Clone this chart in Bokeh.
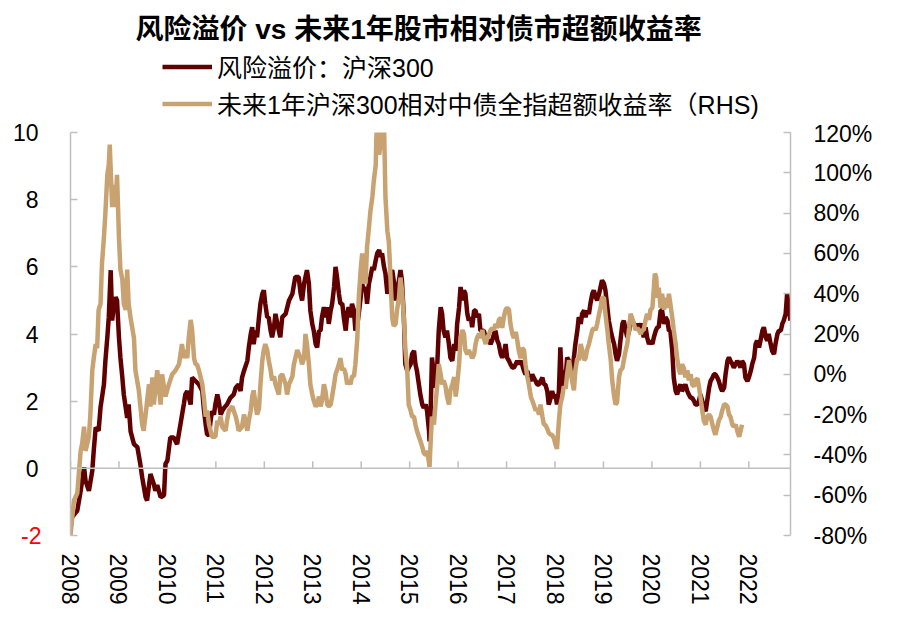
from bokeh.plotting import figure
from bokeh.layouts import column
from bokeh.models import Range1d, LinearAxis, FixedTicker, Span, Label, Legend, LegendItem
from bokeh.embed import file_html
from bokeh.resources import INLINE

title_text = "风险溢价 vs 未来1年股市相对债市超额收益率"
label_rp = "风险溢价：沪深300"
label_er = "未来1年沪深300相对中债全指超额收益率（RHS)"

year_ticks = list(range(2008, 2023))
left_ticks = [-2, 0, 2, 4, 6, 8, 10]
pct_ticks = [-80, -60, -40, -20, 0, 20, 40, 60, 80, 100, 120]

# 风险溢价：沪深300 (left axis)
risk_premium = [
    (2008.00, -1.8), (2008.03, -1.46), (2008.14, -1.26), (2008.21, -0.67), (2008.28, 0.03),
    (2008.31, -0.37), (2008.38, -0.67), (2008.45, -0.07), (2008.48, 0.53), (2008.52, 1.22),
    (2008.58, 1.12), (2008.62, 1.82), (2008.69, 2.5), (2008.72, 3.2), (2008.76, 3.9),
    (2008.79, 4.5), (2008.83, 5.9), (2008.86, 4.4), (2008.89, 4.8), (2008.93, 5.1),
    (2008.96, 5.0), (2009.00, 3.9), (2009.03, 3.3), (2009.07, 2.7), (2009.10, 2.2),
    (2009.14, 1.8), (2009.17, 1.5), (2009.20, 1.9), (2009.24, 1.1), (2009.31, 0.72),
    (2009.38, 0.63), (2009.44, 0.13), (2009.48, -0.27), (2009.55, -0.86), (2009.58, -0.96),
    (2009.65, -0.17), (2009.72, -0.47), (2009.75, -0.67), (2009.79, -0.5), (2009.86, -0.86),
    (2009.93, -0.8), (2009.96, 0.13), (2010.00, 0.23), (2010.06, 0.92), (2010.13, 0.92),
    (2010.20, 0.72), (2010.27, 1.32), (2010.34, 1.92), (2010.37, 2.2), (2010.41, 2.3),
    (2010.48, 1.9), (2010.51, 2.7), (2010.58, 2.6), (2010.65, 2.5), (2010.72, 2.3),
    (2010.75, 1.8), (2010.79, 1.3), (2010.82, 1.0), (2010.86, 1.0), (2010.89, 1.4),
    (2010.92, 1.7), (2010.96, 1.6), (2010.99, 1.9), (2011.03, 2.2), (2011.06, 2.0),
    (2011.10, 1.6), (2011.13, 1.7), (2011.17, 1.8), (2011.23, 1.9), (2011.30, 2.1),
    (2011.37, 2.2), (2011.41, 2.4), (2011.47, 2.5), (2011.51, 2.3), (2011.54, 2.7),
    (2011.58, 2.9), (2011.65, 3.2), (2011.68, 3.6), (2011.72, 4.0), (2011.75, 4.2),
    (2011.78, 3.7), (2011.82, 4.1), (2011.85, 3.9), (2011.89, 4.5), (2011.92, 4.9),
    (2011.96, 5.2), (2011.99, 5.3), (2012.02, 4.9), (2012.06, 4.5), (2012.09, 4.5),
    (2012.13, 4.1), (2012.16, 3.9), (2012.20, 4.2), (2012.23, 4.6), (2012.27, 4.3),
    (2012.33, 3.9), (2012.37, 4.5), (2012.44, 4.6), (2012.51, 5.0), (2012.58, 5.2),
    (2012.64, 5.7), (2012.71, 5.7), (2012.75, 5.2), (2012.78, 5.0), (2012.82, 5.5),
    (2012.85, 5.7), (2012.88, 5.9), (2012.92, 5.5), (2012.95, 4.7), (2012.99, 4.3),
    (2013.02, 4.1), (2013.06, 3.7), (2013.09, 3.6), (2013.13, 4.1), (2013.16, 4.1),
    (2013.19, 4.5), (2013.23, 4.8), (2013.26, 4.5), (2013.30, 4.8), (2013.33, 4.3),
    (2013.37, 4.7), (2013.40, 4.9), (2013.44, 5.4), (2013.47, 6.0), (2013.50, 5.7),
    (2013.54, 5.2), (2013.57, 4.9), (2013.61, 4.9), (2013.64, 4.5), (2013.68, 4.1),
    (2013.71, 4.6), (2013.74, 4.8), (2013.78, 4.5), (2013.81, 4.9), (2013.85, 4.7),
    (2013.88, 4.1), (2013.92, 4.3), (2013.95, 4.6), (2013.99, 5.1), (2014.02, 5.5),
    (2014.05, 5.3), (2014.09, 5.4), (2014.12, 4.9), (2014.16, 5.5), (2014.19, 5.7),
    (2014.23, 6.0), (2014.26, 5.9), (2014.30, 6.2), (2014.33, 6.4), (2014.37, 6.5),
    (2014.40, 6.3), (2014.43, 6.4), (2014.47, 6.0), (2014.50, 5.8), (2014.54, 5.2),
    (2014.57, 5.4), (2014.61, 5.8), (2014.64, 5.9), (2014.67, 5.6), (2014.71, 5.0),
    (2014.74, 5.3), (2014.78, 5.6), (2014.81, 5.9), (2014.84, 5.6), (2014.88, 4.5),
    (2014.91, 3.1), (2014.95, 2.9), (2014.98, 3.0), (2015.02, 3.1), (2015.05, 3.4),
    (2015.09, 3.5), (2015.12, 3.1), (2015.15, 2.9), (2015.19, 2.5), (2015.22, 2.2),
    (2015.26, 1.9), (2015.29, 1.8), (2015.33, 1.9), (2015.36, 1.7), (2015.40, 1.1),
    (2015.41, 0.8), (2015.43, 1.5), (2015.46, 3.3), (2015.50, 2.8), (2015.53, 2.4),
    (2015.57, 3.1), (2015.60, 4.1), (2015.64, 4.8), (2015.67, 4.6), (2015.70, 4.1),
    (2015.74, 3.9), (2015.77, 4.1), (2015.81, 3.7), (2015.84, 3.3), (2015.88, 3.2),
    (2015.92, 3.7), (2015.95, 3.5), (2015.98, 4.3), (2016.02, 4.8), (2016.05, 5.4),
    (2016.09, 5.0), (2016.12, 5.3), (2016.15, 5.2), (2016.19, 4.6), (2016.22, 4.4),
    (2016.26, 4.5), (2016.29, 4.2), (2016.33, 4.7), (2016.36, 4.7), (2016.39, 4.5),
    (2016.43, 4.6), (2016.46, 4.1), (2016.50, 4.1), (2016.53, 4.1), (2016.57, 3.9),
    (2016.60, 3.8), (2016.64, 3.8), (2016.67, 3.7), (2016.70, 3.8), (2016.74, 4.0),
    (2016.77, 4.1), (2016.81, 3.8), (2016.84, 3.7), (2016.88, 3.4), (2016.91, 3.3),
    (2016.94, 3.4), (2016.98, 3.7), (2017.01, 3.3), (2017.05, 3.2), (2017.08, 3.1),
    (2017.12, 3.0), (2017.15, 3.0), (2017.19, 3.1), (2017.22, 3.2), (2017.25, 3.1),
    (2017.29, 3.2), (2017.32, 3.1), (2017.36, 2.9), (2017.39, 2.8), (2017.43, 2.9),
    (2017.46, 2.7), (2017.50, 2.6), (2017.53, 2.8), (2017.56, 2.7), (2017.60, 2.6),
    (2017.63, 2.5), (2017.67, 2.5), (2017.70, 2.6), (2017.74, 2.7), (2017.77, 2.5),
    (2017.80, 2.5), (2017.84, 2.3), (2017.87, 1.9), (2017.91, 2.1), (2017.94, 2.3),
    (2017.98, 2.1), (2018.01, 2.2), (2018.04, 1.9), (2018.08, 2.3), (2018.11, 3.6),
    (2018.15, 2.3), (2018.18, 2.9), (2018.22, 2.7), (2018.25, 3.3), (2018.29, 3.2),
    (2018.32, 2.9), (2018.35, 2.8), (2018.39, 3.3), (2018.42, 3.7), (2018.46, 4.1),
    (2018.49, 4.5), (2018.53, 4.3), (2018.56, 4.6), (2018.60, 4.7), (2018.63, 4.5),
    (2018.66, 4.7), (2018.70, 4.6), (2018.73, 4.9), (2018.77, 5.2), (2018.80, 5.3),
    (2018.84, 5.1), (2018.87, 5.0), (2018.91, 5.2), (2018.94, 5.4), (2018.97, 5.6),
    (2019.01, 5.5), (2019.04, 5.3), (2019.08, 4.8), (2019.11, 4.4), (2019.15, 4.1),
    (2019.18, 3.9), (2019.22, 3.7), (2019.25, 3.4), (2019.28, 3.2), (2019.32, 3.4),
    (2019.35, 3.8), (2019.39, 4.3), (2019.42, 4.4), (2019.46, 4.1), (2019.49, 3.9),
    (2019.53, 4.1), (2019.56, 4.5), (2019.59, 4.4), (2019.63, 4.3), (2019.66, 4.2),
    (2019.70, 4.3), (2019.73, 4.2), (2019.77, 4.3), (2019.80, 4.2), (2019.83, 3.9),
    (2019.87, 4.2), (2019.90, 3.9), (2019.94, 3.7), (2019.97, 3.8), (2020.01, 3.7),
    (2020.04, 3.9), (2020.08, 4.1), (2020.11, 4.2), (2020.14, 4.2), (2020.18, 4.7),
    (2020.21, 4.7), (2020.25, 4.3), (2020.28, 4.5), (2020.32, 4.4), (2020.35, 4.1),
    (2020.38, 4.1), (2020.42, 3.5), (2020.45, 2.7), (2020.49, 2.3), (2020.52, 2.2),
    (2020.56, 2.4), (2020.59, 2.5), (2020.62, 2.3), (2020.66, 2.4), (2020.69, 2.5),
    (2020.73, 2.3), (2020.76, 2.2), (2020.80, 2.1), (2020.83, 2.1), (2020.87, 2.0),
    (2020.90, 1.9), (2020.94, 1.9), (2020.97, 2.0), (2021.00, 2.2), (2021.04, 2.0),
    (2021.07, 1.8), (2021.11, 1.7), (2021.14, 2.0), (2021.18, 2.4), (2021.21, 2.6),
    (2021.25, 2.7), (2021.28, 2.8), (2021.31, 2.8), (2021.35, 2.7), (2021.38, 2.6),
    (2021.42, 2.4), (2021.45, 2.3), (2021.49, 2.4), (2021.52, 2.8), (2021.56, 3.2),
    (2021.59, 3.3), (2021.62, 3.2), (2021.66, 3.1), (2021.69, 3.0), (2021.73, 3.1),
    (2021.76, 3.2), (2021.80, 3.1), (2021.83, 3.0), (2021.86, 3.2), (2021.90, 3.1),
    (2021.93, 2.7), (2021.97, 2.6), (2022.00, 2.7), (2022.04, 2.9), (2022.07, 3.1),
    (2022.11, 3.3), (2022.14, 3.7), (2022.17, 3.8), (2022.21, 3.6), (2022.24, 3.8),
    (2022.28, 4.1), (2022.31, 4.2), (2022.35, 3.9), (2022.38, 3.8), (2022.41, 4.0),
    (2022.45, 3.7), (2022.48, 3.5), (2022.52, 3.4), (2022.55, 3.7), (2022.59, 4.0),
    (2022.62, 4.1), (2022.66, 4.1), (2022.69, 4.3), (2022.72, 4.4), (2022.76, 4.6),
    (2022.79, 5.2), (2022.83, 4.7), (2022.86, 4.4),
]

# 未来1年沪深300相对中债全指超额收益率 (right axis, %)
excess_return = [
    (2008.00, -80), (2008.07, -62.6), (2008.14, -59), (2008.21, -38), (2008.24, -34.5),
    (2008.28, -26), (2008.31, -38), (2008.38, -31), (2008.41, -20), (2008.45, 2),
    (2008.48, 8), (2008.52, 15), (2008.55, 13), (2008.58, 32), (2008.62, 35),
    (2008.65, 55), (2008.69, 68), (2008.72, 80), (2008.76, 99), (2008.79, 104),
    (2008.81, 114), (2008.86, 83), (2008.89, 94), (2008.93, 83), (2008.96, 99),
    (2009.00, 68), (2009.03, 52), (2009.07, 47), (2009.10, 35), (2009.14, 32),
    (2009.17, 52), (2009.20, 35), (2009.24, 28), (2009.31, 18), (2009.34, 2),
    (2009.41, -8), (2009.48, -25), (2009.51, -28), (2009.55, -20), (2009.62, -5),
    (2009.65, -16), (2009.69, -1.5), (2009.72, -15), (2009.79, 2), (2009.86, -15),
    (2009.89, 0), (2009.96, -11), (2010.03, -5), (2010.10, 0), (2010.17, 2),
    (2010.24, 5), (2010.30, 15), (2010.34, 8), (2010.37, 12), (2010.41, 8),
    (2010.44, 18), (2010.48, 27), (2010.51, 22), (2010.55, 8), (2010.58, 5),
    (2010.61, 5), (2010.65, 2), (2010.68, -1), (2010.72, -5), (2010.75, -11),
    (2010.79, -21), (2010.82, -18), (2010.86, -25), (2010.89, -28), (2010.92, -31),
    (2010.99, -31), (2011.03, -23), (2011.06, -25), (2011.10, -21), (2011.13, -26),
    (2011.20, -28), (2011.23, -23), (2011.27, -18), (2011.34, -16), (2011.41, -21),
    (2011.44, -24), (2011.47, -28), (2011.54, -26), (2011.58, -20), (2011.61, -23),
    (2011.65, -28), (2011.68, -23), (2011.72, -18), (2011.75, -11), (2011.78, -8),
    (2011.82, -15), (2011.85, -20), (2011.89, -17), (2011.92, -5), (2011.96, 7),
    (2011.99, 12), (2012.02, 15), (2012.06, 12), (2012.09, 7), (2012.13, 2),
    (2012.16, -3), (2012.20, -1), (2012.23, -5), (2012.30, -10), (2012.33, -1),
    (2012.37, 0), (2012.44, -5), (2012.47, -10), (2012.51, -5), (2012.58, -1),
    (2012.61, 5), (2012.64, 8), (2012.68, 12), (2012.75, 8), (2012.78, 5),
    (2012.82, 8), (2012.85, 20), (2012.88, 15), (2012.92, 5), (2012.95, -5),
    (2012.99, -10), (2013.02, -13), (2013.06, -16), (2013.09, -15), (2013.13, -11),
    (2013.16, -16), (2013.19, -13), (2013.23, -5), (2013.26, -8), (2013.30, -15),
    (2013.33, -16), (2013.37, -15), (2013.40, -11), (2013.44, -5), (2013.47, 0),
    (2013.50, 2), (2013.54, 5), (2013.57, 8), (2013.61, 2), (2013.64, 3),
    (2013.68, 0), (2013.71, -5), (2013.74, -3), (2013.78, -5), (2013.81, -1),
    (2013.85, -1), (2013.88, 5), (2013.92, 18), (2013.95, 38), (2013.99, 52),
    (2014.02, 60), (2014.03, 45), (2014.05, 50), (2014.09, 45), (2014.12, 63),
    (2014.16, 73), (2014.19, 81), (2014.23, 88), (2014.26, 96), (2014.30, 104),
    (2014.31, 116), (2014.33, 125), (2014.37, 109), (2014.40, 114), (2014.43, 125),
    (2014.47, 125), (2014.50, 88), (2014.54, 71), (2014.57, 66), (2014.61, 45),
    (2014.64, 28), (2014.67, 24), (2014.71, 25), (2014.74, 32), (2014.78, 38),
    (2014.81, 48), (2014.84, 42), (2014.88, 28), (2014.91, 13), (2014.95, 2),
    (2014.98, -15), (2015.02, -18), (2015.05, -21), (2015.09, -21), (2015.12, -25),
    (2015.15, -28), (2015.19, -31), (2015.22, -33), (2015.26, -36), (2015.29, -39),
    (2015.33, -40), (2015.36, -38), (2015.40, -44), (2015.41, -46), (2015.43, -35),
    (2015.46, -21), (2015.50, -25), (2015.53, -16), (2015.57, -5), (2015.60, 5),
    (2015.64, 0), (2015.67, -5), (2015.70, -3), (2015.74, -6), (2015.77, -11),
    (2015.81, -15), (2015.84, -8), (2015.88, -5), (2015.92, -1.4), (2015.95, -11),
    (2015.98, -5), (2016.02, 5), (2016.05, 18), (2016.09, 22), (2016.12, 20),
    (2016.15, 12), (2016.19, 10), (2016.22, 12), (2016.26, 10), (2016.29, 8),
    (2016.33, 10), (2016.36, 15), (2016.39, 18), (2016.43, 20), (2016.46, 18),
    (2016.50, 22), (2016.53, 18), (2016.57, 15), (2016.60, 18), (2016.64, 20),
    (2016.67, 22), (2016.70, 23), (2016.74, 22), (2016.77, 25), (2016.81, 23),
    (2016.84, 27), (2016.88, 28), (2016.91, 23), (2016.94, 28), (2016.98, 32),
    (2017.01, 33), (2017.05, 32), (2017.08, 25), (2017.12, 20), (2017.15, 18),
    (2017.19, 21), (2017.22, 17), (2017.25, 12), (2017.29, 8), (2017.32, 13),
    (2017.36, 12), (2017.39, 5), (2017.43, -1.4), (2017.46, -5), (2017.50, -11),
    (2017.53, -13), (2017.56, -15), (2017.60, -18), (2017.63, -17), (2017.67, -20),
    (2017.70, -15), (2017.74, -21), (2017.77, -25), (2017.80, -25), (2017.84, -27),
    (2017.87, -29), (2017.91, -30), (2017.94, -30), (2017.98, -32), (2018.01, -35),
    (2018.04, -37), (2018.08, -23), (2018.11, -15), (2018.15, -11), (2018.18, -6),
    (2018.22, -7), (2018.25, 0), (2018.29, 7), (2018.32, 2), (2018.35, -3),
    (2018.39, -8), (2018.42, 2), (2018.46, 8), (2018.49, 7), (2018.53, 15),
    (2018.56, 12), (2018.60, 7), (2018.63, 8), (2018.66, 12), (2018.70, 15),
    (2018.73, 18), (2018.77, 22), (2018.80, 23), (2018.84, 22), (2018.87, 25),
    (2018.91, 30), (2018.94, 33), (2018.97, 38), (2019.01, 38), (2019.04, 30),
    (2019.08, 22), (2019.11, 15), (2019.15, 7), (2019.18, -3), (2019.22, -11),
    (2019.25, -15), (2019.28, -14), (2019.32, -1.5), (2019.35, 2), (2019.39, 3),
    (2019.42, 7), (2019.46, 12), (2019.49, 15), (2019.53, 23), (2019.56, 30),
    (2019.59, 28), (2019.63, 25), (2019.66, 22), (2019.70, 23), (2019.73, 22),
    (2019.77, 20), (2019.80, 22), (2019.83, 22), (2019.87, 27), (2019.90, 30),
    (2019.94, 27), (2019.97, 32), (2020.01, 33), (2020.04, 43), (2020.06, 50),
    (2020.09, 48), (2020.11, 38), (2020.14, 43), (2020.18, 33), (2020.21, 40),
    (2020.25, 32), (2020.28, 38), (2020.32, 33), (2020.35, 40), (2020.38, 35),
    (2020.42, 28), (2020.45, 22), (2020.49, 15), (2020.52, 8), (2020.56, 2),
    (2020.59, 0), (2020.62, 5), (2020.66, 3), (2020.69, -1.5), (2020.73, 2),
    (2020.76, -3), (2020.80, 0), (2020.83, -5), (2020.87, -6), (2020.90, -3),
    (2020.94, -2), (2020.97, -6), (2021.00, -11), (2021.04, -18), (2021.07, -23),
    (2021.11, -25), (2021.14, -21), (2021.18, -20), (2021.21, -21), (2021.25, -25),
    (2021.28, -28), (2021.31, -30), (2021.35, -26), (2021.38, -23), (2021.42, -21),
    (2021.45, -18), (2021.49, -15), (2021.52, -15), (2021.56, -16), (2021.59, -20),
    (2021.62, -21), (2021.66, -25), (2021.69, -26), (2021.73, -25), (2021.76, -28),
    (2021.80, -31), (2021.83, -28), (2021.86, -25),
]

rp_year = [a for a, b in risk_premium]
rp_value = [b for a, b in risk_premium]
er_year = [a for a, b in excess_return]
er_value = [b for a, b in excess_return]

RED = "#600000"
TAN = "#C8A270"
GRAY = "#BFBFBF"
NUM_FONT = "Liberation Sans"
CJK_FONT = "Liberation Sans, Noto Sans CJK SC"
TOP_H = 120

# ---------- header: title + legend (its frame is aligned with the chart frame) ----------
head = figure(width=891, height=TOP_H, output_backend="svg", toolbar_location=None,
              x_range=Range1d(0, 1), y_range=Range1d(0, 1),
              x_axis_type=None, y_axis_type=None,
              min_border_left=0, min_border_right=0, min_border_top=0, min_border_bottom=0)
head.outline_line_color = None
head.xgrid.visible = False
head.ygrid.visible = False
head.background_fill_color = "white"
head.border_fill_color = "white"

# legend keys: the same series, outside the header's (empty) range
k1 = head.line(rp_year, rp_value, line_color=RED, line_width=4.5)
k2 = head.line(er_year, er_value, line_color=TAN, line_width=4.5)

head.add_layout(Label(x=65, y=TOP_H - 29, x_units="screen", y_units="screen", text=title_text,
                      text_align="left", text_baseline="middle", text_font=CJK_FONT,
                      text_font_size="28px", text_font_style="bold", text_color="black"))

legend = Legend(items=[LegendItem(label=label_rp, renderers=[k1]),
                       LegendItem(label=label_er, renderers=[k2])],
                location=(92, -1), orientation="vertical",
                glyph_width=50, glyph_height=27, label_height=27, label_standoff=5,
                spacing=1, padding=0, margin=0,
                border_line_alpha=0, background_fill_alpha=0,
                label_text_font=CJK_FONT, label_text_font_size="25px", label_text_color="black")
head.add_layout(legend)

# ---------- main chart ----------
p = figure(width=891, height=613 - TOP_H, output_backend="svg", toolbar_location=None,
           x_range=Range1d(2008, 2022.86), y_range=Range1d(-2, 10),
           min_border_left=70, min_border_right=101, min_border_top=12, min_border_bottom=78)
p.extra_y_ranges = {"pct": Range1d(-80, 120)}
p.xgrid.visible = False
p.ygrid.visible = False
p.outline_line_color = None
p.background_fill_color = "white"
p.border_fill_color = "white"

# bottom axis: labels only
xa = p.xaxis[0]
xa.ticker = FixedTicker(ticks=year_ticks)
xa.major_label_overrides = {y: str(y) for y in year_ticks}
xa.axis_line_color = None
xa.major_tick_line_color = None
xa.major_tick_in = 0
xa.major_tick_out = 0
xa.minor_tick_line_color = None
xa.major_label_orientation = "vertical"
xa.major_label_standoff = 18
xa.major_label_text_font = NUM_FONT
xa.major_label_text_font_size = "23px"
xa.major_label_text_color = "black"

# left axis (line, inward ticks and the red "-2")
ya = p.yaxis[0]
ya.ticker = FixedTicker(ticks=left_ticks)
ya.major_label_overrides = {t: ("-2" if t == -2 else "") for t in left_ticks}
ya.axis_line_color = GRAY
ya.axis_line_width = 1.5
ya.major_tick_line_color = GRAY
ya.major_tick_line_width = 1.5
ya.major_tick_in = 7
ya.major_tick_out = 0
ya.minor_tick_line_color = None
ya.major_label_standoff = 29
ya.major_label_text_font = NUM_FONT
ya.major_label_text_font_size = "23px"
ya.major_label_text_color = "red"

# left axis black labels (stacked outside the first one, pulled back in)
yb = LinearAxis(ticker=FixedTicker(ticks=left_ticks),
                major_label_overrides={t: ("" if t == -2 else str(t)) for t in left_ticks})
yb.axis_line_color = None
yb.major_tick_line_color = None
yb.minor_tick_line_color = None
yb.major_tick_in = 0
yb.major_tick_out = 0
yb.major_label_standoff = -20
yb.major_label_text_font = NUM_FONT
yb.major_label_text_font_size = "23px"
yb.major_label_text_color = "black"
p.add_layout(yb, "left")

# right axis
ra = LinearAxis(y_range_name="pct", ticker=FixedTicker(ticks=pct_ticks),
                major_label_overrides={t: f"{t}%" for t in pct_ticks})
ra.axis_line_color = GRAY
ra.axis_line_width = 1.5
ra.major_tick_line_color = GRAY
ra.major_tick_line_width = 1.5
ra.major_tick_in = 7
ra.major_tick_out = 0
ra.minor_tick_line_color = None
ra.major_label_standoff = 23
ra.major_label_text_font = NUM_FONT
ra.major_label_text_font_size = "23px"
ra.major_label_text_color = "black"
p.add_layout(ra, "right")

# horizontal axis line at 0 with upward ticks
p.add_layout(Span(location=0, dimension="width", line_color=GRAY, line_width=1.5))
p.segment(x0=year_ticks, y0=[0] * len(year_ticks), x1=year_ticks, y1=[0.21] * len(year_ticks),
          line_color=GRAY, line_width=1.5)

r1 = p.line(rp_year, rp_value, line_color=RED, line_width=4.5)
r2 = p.line(er_year, er_value, y_range_name="pct", line_color=TAN, line_width=4.5)

layout = column(head, p, spacing=0)
open("out.html", "w").write(file_html(layout, INLINE))
